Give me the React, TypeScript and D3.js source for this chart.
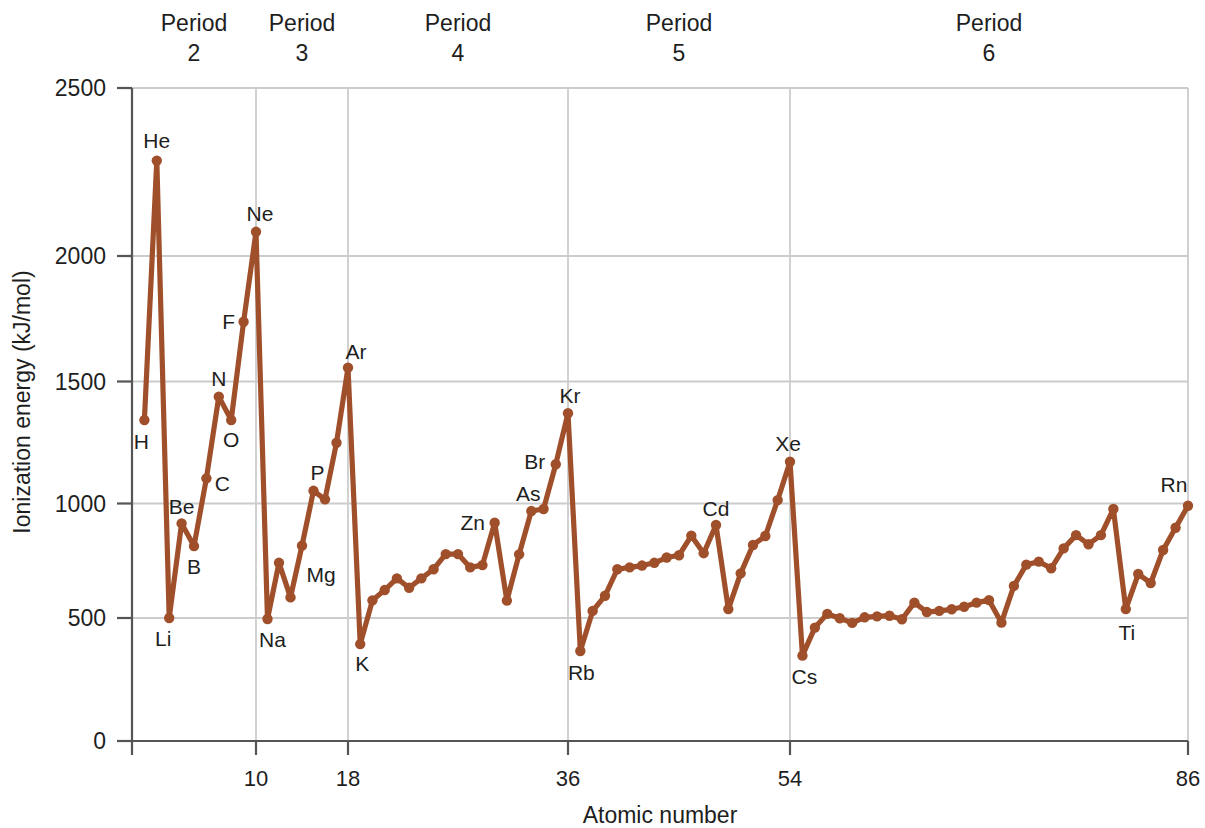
import React from "react";
import * as d3 from "d3";

const width = 1205;
const height = 828;

// atomic numbers 1..86 and first ionization energies (kJ/mol)
const symbols = [
  "H", "He", "Li", "Be", "B", "C", "N", "O", "F", "Ne",
  "Na", "Mg", "Al", "Si", "P", "S", "Cl", "Ar",
  "K", "Ca", "Sc", "Ti", "V", "Cr", "Mn", "Fe", "Co", "Ni", "Cu", "Zn", "Ga", "Ge", "As", "Se", "Br", "Kr",
  "Rb", "Sr", "Y", "Zr", "Nb", "Mo", "Tc", "Ru", "Rh", "Pd", "Ag", "Cd", "In", "Sn", "Sb", "Te", "I", "Xe",
  "Cs", "Ba", "La", "Ce", "Pr", "Nd", "Pm", "Sm", "Eu", "Gd", "Tb", "Dy", "Ho", "Er", "Tm", "Yb", "Lu",
  "Hf", "Ta", "W", "Re", "Os", "Ir", "Pt", "Au", "Hg", "Tl", "Pb", "Bi", "Po", "At", "Rn",
];
const energies = [
  1342, 2284, 500, 913, 814, 1103, 1438, 1342, 1738, 2072,
  496, 741, 590, 816, 1052, 1017, 1249, 1555,
  394, 577, 622, 673, 632, 673, 713, 779, 779, 721, 731, 916, 576, 778, 967, 976, 1161, 1370,
  366, 531, 597, 713, 721, 729, 741, 764, 774, 859, 783, 906, 539, 695, 819, 858, 1014, 1171,
  347, 461, 518, 499, 480, 503, 507, 510, 495, 567, 526, 531, 538, 549, 567, 578, 481,
  640, 733, 746, 717, 804, 862, 822, 862, 976, 539, 692, 653, 797, 894, 990,
];

// labelled points: [atomic number, text]
const pointLabels: [number, string][] = [
  [1, "H"], [2, "He"], [3, "Li"], [4, "Be"], [5, "B"], [6, "C"], [7, "N"], [8, "O"], [9, "F"], [10, "Ne"],
  [11, "Na"], [12, "Mg"], [15, "P"], [18, "Ar"], [19, "K"], [30, "Zn"], [33, "As"], [35, "Br"], [36, "Kr"],
  [37, "Rb"], [48, "Cd"], [54, "Xe"], [55, "Cs"], [81, "Ti"], [86, "Rn"],
];

const yTicks = [0, 500, 1000, 1500, 2000, 2500];
const xTicks = [10, 18, 36, 54, 86];
const periodBounds = [0, 10, 18, 36, 54, 86];
const periodNames = ["2", "3", "4", "5", "6"];

// label offsets from their point (dx, dy)
const labelOffset: Record<number, [number, number]> = {
  1: [-3, 21], 2: [0, -20], 3: [-6, 20], 4: [0, -17], 5: [0, 20], 6: [16, 5],
  7: [0, -18], 8: [0, 19], 9: [-15, 0], 10: [4, -18], 11: [5, 20], 12: [42, 12],
  15: [4, -18], 18: [8, -16], 19: [2, 19], 30: [-22, 0], 33: [-3, -18], 35: [-21, -3],
  36: [2, -18], 37: [1, 21], 48: [0, -17], 54: [-2, -18], 55: [2, 21], 81: [1, 23],
  86: [-14, -21],
};

const font = "'Liberation Sans', Arial, sans-serif";
const textColor = "#1e1e1e";
const lineColor = "#a04f2b";

const data = symbols.map((s, i) => ({ z: i + 1, symbol: s, energy: energies[i] }));

export default function App() {
  const left = 132;
  const right = 1188;
  const top = 88;
  const bottom = 741;

  const x = d3
    .scaleLinear()
    .domain(periodBounds)
    .range([left, 256, 348, 568, 790, right]);
  const y = d3
    .scaleLinear()
    .domain(yTicks)
    .range([bottom, 618, 503.5, 381.5, 256, top]);

  const lineGen = d3
    .line<{ z: number; energy: number }>()
    .x((d) => x(d.z))
    .y((d) => y(d.energy));

  return (
    <svg
      width={width}
      height={height}
      style={{ position: "absolute", left: 0, top: 0, background: "#fff" }}
      fontFamily={font}
    >
      {/* horizontal grid */}
      {yTicks.slice(1).map((t) => (
        <line key={"gy" + t} x1={left} x2={right} y1={y(t)} y2={y(t)} stroke="#cccccc" strokeWidth={1.8} />
      ))}
      {/* vertical grid */}
      {xTicks.map((t) => (
        <line key={"gx" + t} x1={x(t)} x2={x(t)} y1={top} y2={bottom} stroke="#cccccc" strokeWidth={1.8} />
      ))}

      {/* axes */}
      <line x1={left} x2={left} y1={top} y2={bottom + 14} stroke="#555" strokeWidth={2.2} />
      <line x1={left - 15} x2={right} y1={bottom} y2={bottom} stroke="#555" strokeWidth={2.2} />
      {yTicks.map((t) => (
        <g key={"yt" + t}>
          <line x1={left - 15} x2={left} y1={y(t)} y2={y(t)} stroke="#555" strokeWidth={2.2} />
          <text x={left - 26} y={y(t)} dy="0.36em" textAnchor="end" fontSize={23} fill={textColor}>
            {t}
          </text>
        </g>
      ))}
      {xTicks.map((t) => (
        <g key={"xt" + t}>
          <line x1={x(t)} x2={x(t)} y1={bottom} y2={bottom + 14} stroke="#555" strokeWidth={2.2} />
          <text x={x(t)} y={bottom + 37} dy="0.36em" textAnchor="middle" fontSize={22} fill={textColor}>
            {t}
          </text>
        </g>
      ))}

      <text x={660} y={815} dy="0.36em" textAnchor="middle" fontSize={23} fill={textColor}>
        Atomic number
      </text>
      <text
        transform={`translate(22, 402) rotate(-90)`}
        dy="0.36em"
        textAnchor="middle"
        fontSize={23}
        fill={textColor}
      >
        Ionization energy (kJ/mol)
      </text>

      {/* period headers */}
      {periodNames.map((p, i) => {
        const cx = (x(periodBounds[i]) + x(periodBounds[i + 1])) / 2;
        return (
          <text key={"p" + p} x={cx} textAnchor="middle" fontSize={23} fill={textColor}>
            <tspan x={cx} y={31}>Period</tspan>
            <tspan x={cx} y={61}>{p}</tspan>
          </text>
        );
      })}

      {/* series */}
      <path d={lineGen(data) || ""} fill="none" stroke={lineColor} strokeWidth={5.2} strokeLinejoin="round" />
      {data.map((d) => (
        <circle key={"c" + d.z} cx={x(d.z)} cy={y(d.energy)} r={5.2} fill={lineColor} />
      ))}

      {/* element labels */}
      {pointLabels.map(([z, txt]) => {
        const d = data[z - 1];
        const [dx, dy] = labelOffset[z] || [0, -18];
        return (
          <text
            key={"l" + z}
            x={x(d.z) + dx}
            y={y(d.energy) + dy}
            dy="0.36em"
            textAnchor="middle"
            fontSize={21}
            fill={textColor}
          >
            {txt}
          </text>
        );
      })}
    </svg>
  );
}
